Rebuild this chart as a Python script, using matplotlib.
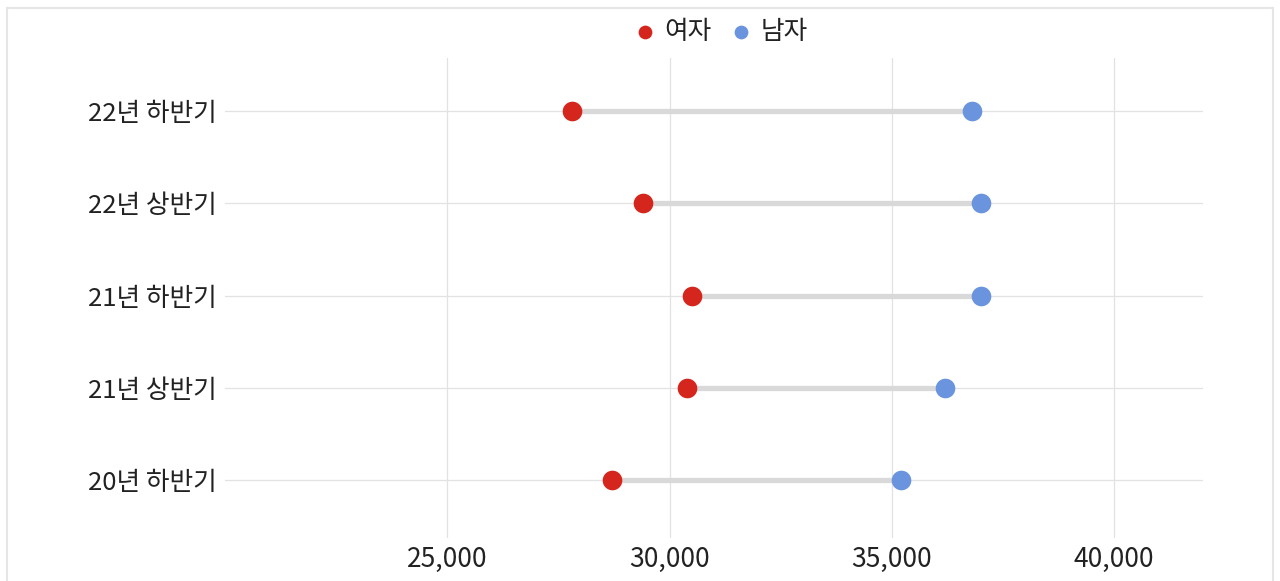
import matplotlib.pyplot as plt
from matplotlib.patches import Rectangle
from matplotlib.ticker import FuncFormatter

plt.rcParams['font.family'] = ['Noto Sans CJK KR', 'DejaVu Sans']

# DATA
periods = ["20년 하반기", "21년 상반기", "21년 하반기", "22년 상반기", "22년 하반기"]
female = [28700, 30400, 30500, 29400, 27800]
male = [35200, 36200, 37000, 37000, 36800]

red = "#d4261c"
blue = "#6a94de"

fig = plt.figure(figsize=(12.8, 5.81), dpi=100)
ax = fig.add_axes([0.1758, 0.074, 0.764, 0.826])

ypos = list(range(len(periods)))

# connecting bars
for y, f, m in zip(ypos, female, male):
    ax.plot([f, m], [y, y], color="#d9d9d9", lw=3.8, solid_capstyle="butt", zorder=2)

ax.scatter(female, ypos, s=200, color=red, zorder=3, label="여자", linewidths=0)
ax.scatter(male, ypos, s=200, color=blue, zorder=3, label="남자", linewidths=0)

ax.set_xlim(20000, 42000)
ax.set_ylim(-0.63, 4.575)
ax.set_xticks([25000, 30000, 35000, 40000])
ax.xaxis.set_major_formatter(FuncFormatter(lambda v, p: f"{int(v):,}"))
ax.set_yticks(ypos)
ax.set_yticklabels(periods)

ax.grid(True, color="#e2e2e2", lw=0.9)
ax.set_axisbelow(True)
for s in ax.spines.values():
    s.set_visible(False)
ax.tick_params(length=0, colors="#222222")
ax.tick_params(axis="y", pad=6, labelsize=18.5)
ax.tick_params(axis="x", pad=6, labelsize=19)

leg = fig.legend(loc="center", bbox_to_anchor=(0.563, 0.945), ncol=2, frameon=False,
                 fontsize=18.5, handlelength=0.9, handletextpad=0.3, columnspacing=0.7,
                 markerscale=0.7, labelcolor="#222222")

# outer frame
fig.patches.append(Rectangle((0.0055, -0.01), 0.989, 0.996, transform=fig.transFigure,
                             fill=False, edgecolor="#e6e6e6", lw=1.5))

fig.savefig("out.png", dpi=100)
